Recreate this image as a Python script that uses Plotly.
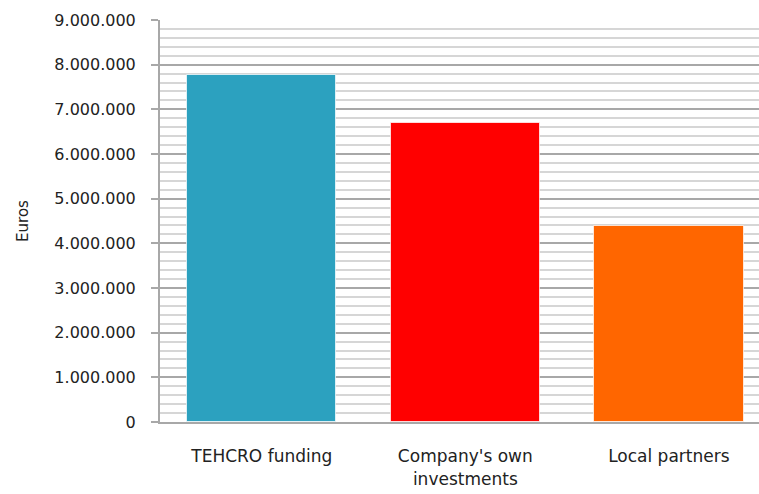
import plotly.graph_objects as go

categories = ["TEHCRO funding", "Company's own<br>investments", "Local partners"]
values = [7760000, 6700000, 4380000]
colors = ["#2ca1bf", "#ff0000", "#ff6600"]
y_tickvals = [0, 1000000, 2000000, 3000000, 4000000, 5000000, 6000000, 7000000, 8000000, 9000000]

fig = go.Figure()
fig.add_trace(go.Bar(
    x=[0, 1, 2],
    y=values,
    marker=dict(color=colors, line=dict(color="rgba(255,255,255,0.7)", width=1)),
    width=0.734,
))

fig.update_layout(
    width=759, height=494,
    margin=dict(l=160, r=0, t=20, b=72, autoexpand=False),
    plot_bgcolor="white", paper_bgcolor="white",
    separators=",.",
    showlegend=False,
    font=dict(family="DejaVu Sans", size=16, color="#222222"),
    bargap=0,
)
fig.update_xaxes(
    range=[-0.5, 2.443],
    tickvals=[0, 1, 2],
    ticktext=categories,
    showgrid=False,
    showline=True, linecolor="#a8a8a8", linewidth=2,
    ticks="", tickfont=dict(size=17),
    ticklabelstandoff=18,
    zeroline=False,
    automargin=False,
)
fig.update_yaxes(
    range=[0, 9000000],
    tickvals=y_tickvals,
    tickformat=",d",
    showgrid=True, gridcolor="#a8a8a8", gridwidth=1.5,
    minor=dict(dtick=200000, showgrid=True, gridcolor="#d6d6d6", gridwidth=1.5),
    showline=True, linecolor="#a8a8a8", linewidth=2,
    ticks="outside", ticklen=7, tickcolor="#a8a8a8", tickwidth=1.5,
    tickfont=dict(size=16),
    ticklabelstandoff=12,
    zeroline=False,
    automargin=False,
    title=dict(text="Euros", font=dict(size=15), standoff=22),
)
fig.write_html(
    "out.html",
    config={"displayModeBar": False},
    post_script="document.body.style.margin='0';document.body.style.overflow='hidden';",
)
